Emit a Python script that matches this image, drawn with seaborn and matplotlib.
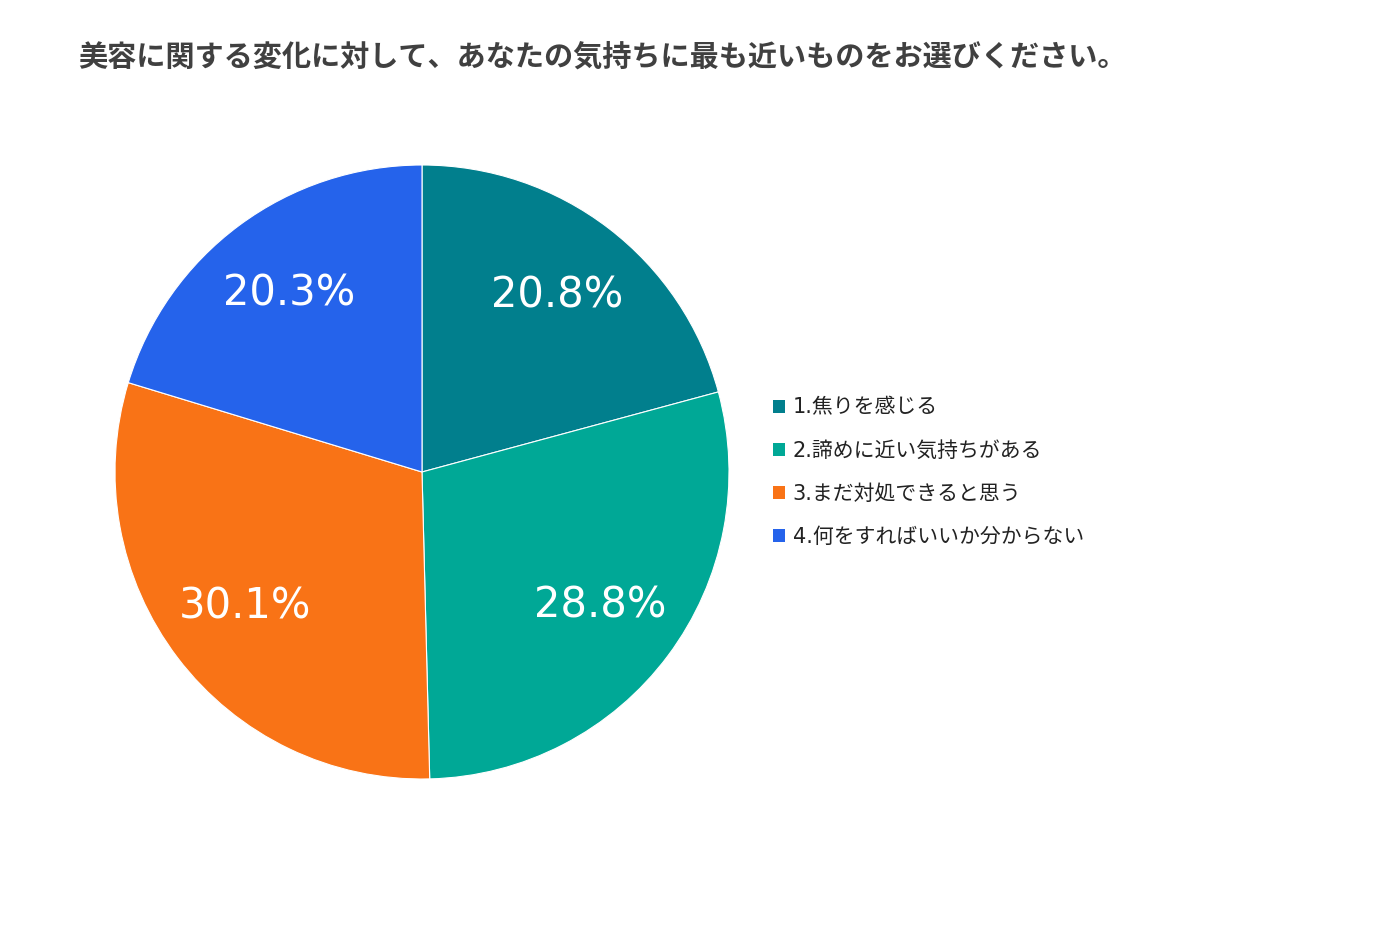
import matplotlib
matplotlib.use("Agg")
import matplotlib.pyplot as plt
from matplotlib.patches import Patch
import seaborn as sns

# data
labels = ["1.焦りを感じる", "2.諦めに近い気持ちがある", "3.まだ対処できると思う", "4.何をすればいいか分からない"]
values = [20.8, 28.8, 30.1, 20.3]
colors = ["#017f8d", "#00a896", "#f97316", "#2563eb"]
title = "美容に関する変化に対して、あなたの気持ちに最も近いものをお選びください。"


def draw_figure():
    sns.set_theme(style="white")
    plt.rcParams['font.family'] = ['Noto Sans CJK JP', 'DejaVu Sans']

    fig = plt.figure(figsize=(13.95, 9.47), dpi=100)
    # pie centre ~ (422, 472) px, radius ~ 307 px
    w, h = 614 / 1395, 614 / 947
    ax = fig.add_axes([422 / 1395 - w / 2, 1 - 472 / 947 - h / 2, w, h])
    wedges, texts, autotexts = ax.pie(values, colors=colors, startangle=90, counterclock=False,
                                      autopct='%.1f%%', pctdistance=0.725,
                                      wedgeprops=dict(linewidth=0.8, edgecolor='white'),
                                      textprops=dict(color='white', fontsize=30,
                                                     family=['DejaVu Sans']))
    ax.set_xlim(-1, 1)
    ax.set_ylim(-1, 1)
    ax.set_aspect('equal')

    fig.text(78 / 1395, 1 - 57 / 947, title, fontsize=21, fontweight='bold',
             color='#404040', ha='left', va='center')

    handles = [Patch(facecolor=c, edgecolor='none') for c in colors]
    leg = fig.legend(handles, labels, loc='upper left', bbox_to_anchor=(754 / 1395, 1 - 379 / 947),
                     frameon=False, fontsize=15, handlelength=0.6, handleheight=0.6,
                     handletextpad=0.35, labelspacing=1.1, labelcolor='#222222')
    for t in leg.get_texts():
        t.set_family(['DejaVu Sans', 'Noto Sans CJK JP'])
    return fig


fig = draw_figure()
fig.savefig('out.png', dpi=100)
